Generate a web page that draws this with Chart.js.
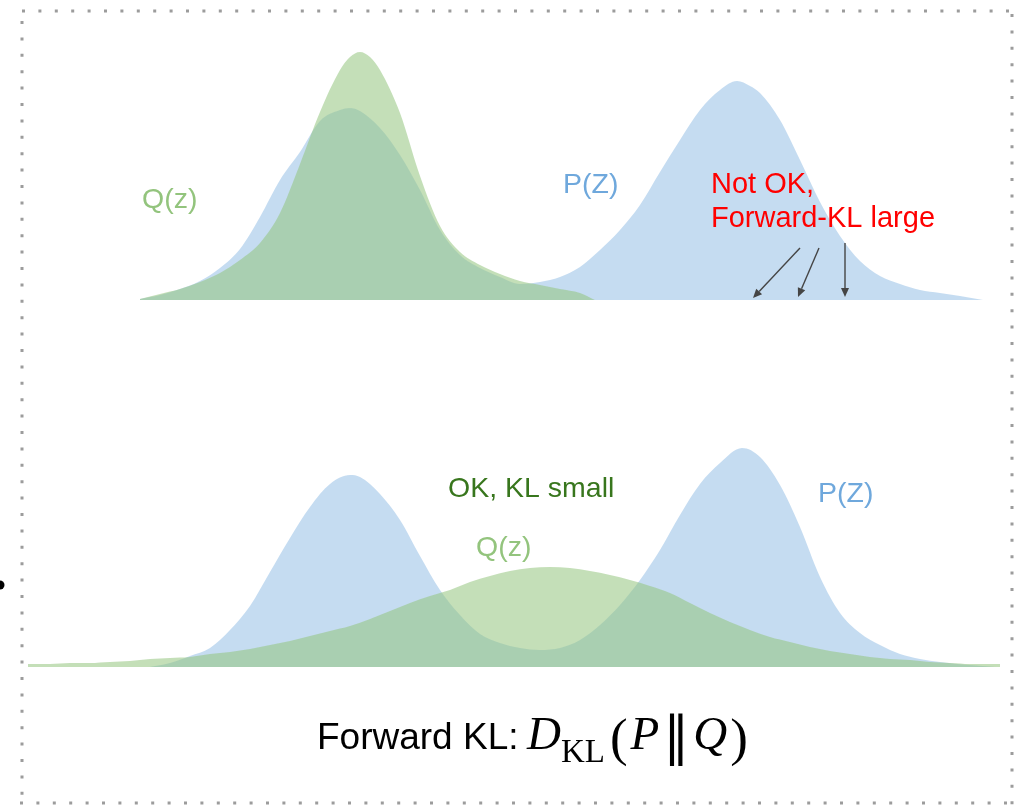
<!DOCTYPE html>
<html>
<head>
<meta charset="utf-8">
<script src="https://cdn.jsdelivr.net/npm/chart.js@4/dist/chart.umd.min.js"></script>
<style>
  html, body { margin: 0; padding: 0; background: #ffffff; }
  #wrap { position: relative; width: 1027px; height: 805px; }
  canvas { display: block; }
</style>
</head>
<body>
<div id="wrap"><canvas id="c" width="1027" height="805"></canvas></div>
<script>
// ---------------- DATA ----------------
// z = latent variable position, values = density height (arbitrary units)

// Top panel: Q(z) fits only one mode of P(Z)
const topQz = [-4.0,-3.8,-3.6,-3.4,-3.2,-3.0,-2.8,-2.6,-2.4,-2.2,-2.0,-1.9,-1.8,-1.7,-1.6,-1.4,-1.2,-1.0,-0.8,-0.6,-0.4,-0.2,0.0,0.2,0.4,0.55];
const topQ  = [0.01,0.06,0.11,0.18,0.27,0.40,0.57,0.87,1.36,1.88,2.30,2.43,2.48,2.43,2.30,1.87,1.24,0.74,0.48,0.35,0.26,0.19,0.15,0.11,0.07,0.0];

const topPz = [-4.0,-3.8,-3.6,-3.4,-3.2,-3.0,-2.8,-2.6,-2.4,-2.2,-2.0,-1.9,-1.8,-1.6,-1.4,-1.2,-1.0,-0.8,-0.6,-0.4,-0.2,0.0,0.2,0.4,0.6,0.8,1.0,1.2,1.4,1.6,1.8,1.97,2.1,2.2,2.4,2.6,2.8,3.0,3.2,3.4,3.6,3.8,4.0,4.2,4.43];
const topP  = [0.01,0.05,0.11,0.19,0.32,0.51,0.83,1.20,1.48,1.79,1.90,1.92,1.89,1.72,1.45,1.10,0.70,0.45,0.32,0.23,0.16,0.18,0.23,0.33,0.50,0.70,0.95,1.28,1.60,1.90,2.10,2.19,2.14,2.07,1.80,1.40,0.98,0.64,0.39,0.24,0.16,0.10,0.07,0.04,0.0];

// Bottom panel: Q(z) spreads over both modes of P(Z)
const botQz = [-5.12,-4.9,-4.7,-4.5,-4.3,-4.1,-3.9,-3.7,-3.5,-3.3,-3.1,-2.9,-2.7,-2.5,-2.3,-2.1,-1.9,-1.7,-1.5,-1.3,-1.1,-0.9,-0.7,-0.5,-0.3,-0.1,0.1,0.3,0.5,0.7,0.9,1.1,1.3,1.5,1.7,1.9,2.1,2.3,2.5,2.7,2.9,3.1,3.3,3.5,3.7,3.9,4.1,4.3,4.6];
const botQ  = [0.03,0.03,0.04,0.04,0.05,0.06,0.08,0.09,0.10,0.13,0.15,0.18,0.22,0.26,0.31,0.36,0.41,0.48,0.56,0.64,0.71,0.77,0.85,0.91,0.96,0.99,1.00,0.99,0.96,0.92,0.87,0.81,0.74,0.64,0.54,0.45,0.37,0.30,0.25,0.20,0.16,0.13,0.10,0.08,0.07,0.05,0.04,0.03,0.03];

const botPz = [-3.9,-3.7,-3.5,-3.3,-3.1,-2.9,-2.7,-2.5,-2.3,-2.1,-1.9,-1.8,-1.6,-1.4,-1.2,-1.0,-0.8,-0.6,-0.4,-0.2,0.0,0.2,0.4,0.6,0.8,1.0,1.2,1.4,1.6,1.8,2.02,2.2,2.4,2.6,2.8,3.0,3.2,3.4,3.6,3.8,4.0,4.3,4.56];
const botP  = [0.0,0.04,0.11,0.19,0.37,0.61,0.95,1.29,1.60,1.83,1.92,1.90,1.73,1.47,1.11,0.77,0.52,0.33,0.24,0.19,0.17,0.19,0.27,0.42,0.62,0.87,1.17,1.52,1.83,2.04,2.19,2.10,1.82,1.40,0.90,0.54,0.34,0.22,0.13,0.08,0.05,0.02,0.0];

// Text annotations (anchored in data units)
const labelTexts  = ['Q(z)', 'P(Z)', 'Not OK,', 'Forward-KL large', 'OK, KL small', 'Q(z)', 'P(Z)'];
const labelZ      = [-3.98, 0.23, 1.71, 1.71, -0.92, -0.64, 2.78];
const labelV      = [0.92, 1.07, 1.07, 0.73, 1.70, 1.11, 1.65];
const labelPanel  = ['yTop','yTop','yTop','yTop','yBot','yBot','yBot'];
const labelColors = ['#93c47d','#6fa8dc','#ff0000','#ff0000','#38761d','#93c47d','#6fa8dc'];

// Arrows in the top panel (from -> to, data units)
const arrowFromZ = [2.60, 2.79, 3.05];
const arrowFromV = [0.52, 0.52, 0.57];
const arrowToZ   = [2.13, 2.58, 3.05];
const arrowToV   = [0.02, 0.03, 0.03];

// ---------------- STYLE ----------------
const BLUE  = 'rgba(111,168,220,0.40)';
const GREEN = 'rgba(147,196,125,0.55)';

function pts(xs, ys) { return xs.map((x, i) => ({ x: x, y: ys[i] })); }

const overlay = {
  id: 'overlay',
  afterDraw(chart) {
    const ctx = chart.ctx;
    const sx = chart.scales.x;
    ctx.save();

    // dotted frame
    ctx.strokeStyle = '#9c9c9c';
    ctx.lineWidth = 3;
    ctx.setLineDash([3, 13.4]);
    ctx.beginPath(); ctx.moveTo(22, 11); ctx.lineTo(1014, 11); ctx.stroke();
    ctx.beginPath(); ctx.moveTo(1012, 14); ctx.lineTo(1012, 805); ctx.stroke();
    ctx.beginPath(); ctx.moveTo(20, 803); ctx.lineTo(1012, 803); ctx.stroke();
    ctx.beginPath(); ctx.moveTo(22, 21); ctx.lineTo(22, 805); ctx.stroke();
    ctx.setLineDash([]);

    // small black dot at left edge
    ctx.fillStyle = '#000';
    ctx.beginPath(); ctx.arc(0, 585, 4.5, 0, Math.PI * 2); ctx.fill();

    // labels
    ctx.textBaseline = 'alphabetic';
    ctx.textAlign = 'left';
    labelTexts.forEach((t, i) => {
      const sy = chart.scales[labelPanel[i]];
      ctx.font = (labelColors[i] === '#ff0000' ? '29px' : '28.5px') + ' "Liberation Sans", Arial, sans-serif';
      ctx.fillStyle = labelColors[i];
      ctx.fillText(t, sx.getPixelForValue(labelZ[i]), sy.getPixelForValue(labelV[i]));
    });

    // arrows
    const sy = chart.scales.yTop;
    ctx.strokeStyle = '#454545';
    ctx.fillStyle = '#454545';
    ctx.lineWidth = 1.4;
    arrowFromZ.forEach((fz, i) => {
      const x1 = sx.getPixelForValue(fz), y1 = sy.getPixelForValue(arrowFromV[i]);
      const x2 = sx.getPixelForValue(arrowToZ[i]), y2 = sy.getPixelForValue(arrowToV[i]);
      const a = Math.atan2(y2 - y1, x2 - x1);
      const L = 9, W = 4;
      const bx = x2 - L * Math.cos(a), by = y2 - L * Math.sin(a);
      ctx.beginPath(); ctx.moveTo(x1, y1); ctx.lineTo(bx, by); ctx.stroke();
      ctx.beginPath();
      ctx.moveTo(x2, y2);
      ctx.lineTo(bx + W * Math.sin(a), by - W * Math.cos(a));
      ctx.lineTo(bx - W * Math.sin(a), by + W * Math.cos(a));
      ctx.closePath(); ctx.fill();
    });

    // caption
    ctx.fillStyle = '#000';
    ctx.font = '37px "Liberation Sans", Arial, sans-serif';
    ctx.fillText('Forward KL:', 317, 749);
    const it = 'italic 47px "Liberation Serif", "DejaVu Serif", serif';
    const up = '53px "Liberation Serif", "DejaVu Serif", serif';
    const sub = '33px "Liberation Serif", "DejaVu Serif", serif';
    const parts = [
      ['D', it, 749, 0],
      ['KL', sub, 762, 0],
      ['(', up, 755, 5],
      ['P', it, 749, 3],
      ['\u2016', '52px "DejaVu Serif", serif', 754, 4],
      ['Q', it, 749, 4],
      [')', up, 755, 3]
    ];
    let x = 527;
    parts.forEach(p => {
      x += p[3];
      ctx.font = p[1];
      ctx.fillText(p[0], x, p[2]);
      x += ctx.measureText(p[0]).width;
    });

    ctx.restore();
  }
};

new Chart(document.getElementById('c').getContext('2d'), {
  type: 'line',
  data: {
    datasets: [
      { label: 'Q(z) top',    data: pts(topQz, topQ), yAxisID: 'yTop', backgroundColor: GREEN, fill: 'origin', order: 0 },
      { label: 'P(Z) top',    data: pts(topPz, topP), yAxisID: 'yTop', backgroundColor: BLUE,  fill: 'origin', order: 1 },
      { label: 'Q(z) bottom', data: pts(botQz, botQ), yAxisID: 'yBot', backgroundColor: GREEN, fill: 'origin', order: 0 },
      { label: 'P(Z) bottom', data: pts(botPz, botP), yAxisID: 'yBot', backgroundColor: BLUE,  fill: 'origin', order: 1 }
    ]
  },
  options: {
    responsive: false,
    animation: false,
    layout: { padding: 0 },
    elements: {
      line: { borderWidth: 0, borderColor: 'rgba(0,0,0,0)', cubicInterpolationMode: 'monotone' },
      point: { radius: 0, hoverRadius: 0 }
    },
    scales: {
      x:    { type: 'linear', min: -5.4, max: 4.87, display: false },
      yTop: { type: 'linear', min: -5.05, max: 3.0, display: false },
      yBot: { type: 'linear', min: -1.38, max: 6.67, display: false }
    },
    plugins: { legend: { display: false }, tooltip: { enabled: false } },
    events: []
  },
  plugins: [overlay]
});
</script>
</body>
</html>
